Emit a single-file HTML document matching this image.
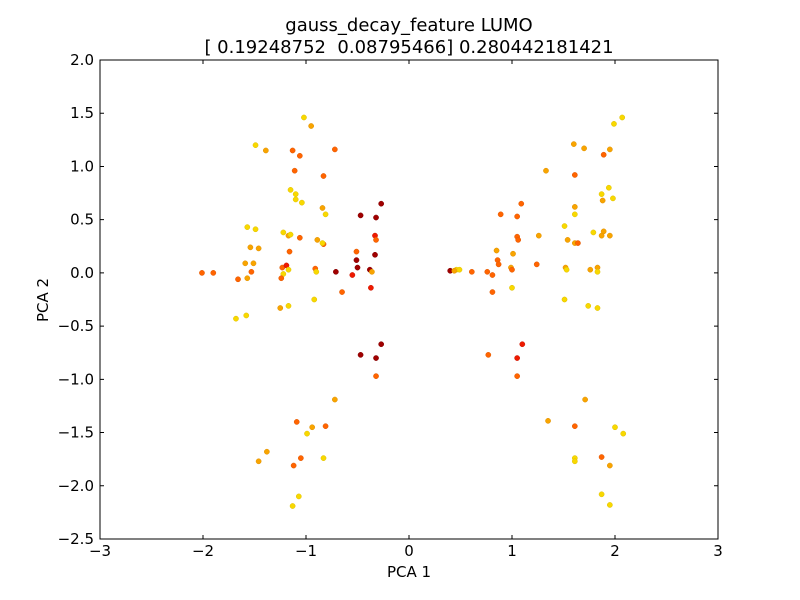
<!DOCTYPE html>
<html><head><meta charset="utf-8"><style>
body{margin:0;background:#fff}
svg{display:block;font-family:"DejaVu Sans","Liberation Sans",sans-serif}
</style></head><body>
<svg id="chart" width="800" height="600">
<rect width="800" height="600" fill="#fff"/>
<text x="409" y="31" font-size="18" text-anchor="middle">gauss_decay_feature LUMO</text>
<text x="409" y="53" font-size="18" text-anchor="middle" xml:space="preserve">[ 0.19248752  0.08795466] 0.280442181421</text>
<g id="marks"></g>
<rect x="100" y="60" width="618" height="479" fill="none" stroke="#000"/>
<g id="axes"></g>
<text x="409" y="577" font-size="15" text-anchor="middle">PCA 1</text>
<text x="48" y="300" font-size="15" text-anchor="middle" transform="rotate(-90 48 300)">PCA 2</text>
</svg>
<script>
const xTicks=[-3,-2,-1,0,1,2,3];
const yTicks=[-2.5,-2.0,-1.5,-1.0,-0.5,0.0,0.5,1.0,1.5,2.0];
const xTickLabels=["\u22123","\u22122","\u22121","0","1","2","3"];
const yTickLabels=["\u22122.5","\u22122.0","\u22121.5","\u22121.0","\u22120.5","0.0","0.5","1.0","1.5","2.0"];
const xs=[-1.49,-1.39,-1.02,-0.95,-1.13,-1.06,-0.72,-1.15,-1.10,-1.04,-1.10,-1.11,-0.83,-0.84,-0.81,-0.83,-1.57,-1.49,-1.54,-1.46,-1.22,-1.17,-1.15,-1.06,-0.89,-0.84,-1.16,-1.59,-1.51,-1.53,-1.66,-1.57,-2.01,-1.90,-1.23,-1.19,-1.22,-1.17,-1.24,-0.91,-0.90,-0.71,-1.68,-1.58,-1.25,-1.17,-0.92,-0.47,-0.32,-0.27,-0.51,-0.33,-0.32,-0.33,-0.51,-0.50,-0.55,-0.65,-0.37,-0.38,-0.36,-0.47,-0.32,-0.27,-0.32,-0.72,-1.09,-0.81,-0.94,-0.99,-1.05,-0.83,-1.38,-1.46,-1.12,-1.07,-1.13,
0.40,0.46,0.44,0.49,0.61,0.76,0.81,0.81,0.85,0.86,0.87,0.89,0.99,1.00,1.00,1.01,1.05,1.05,1.06,1.09,1.24,1.26,1.33,1.51,1.51,1.52,1.53,1.54,1.60,1.61,1.61,1.70,1.61,1.64,1.61,1.76,1.74,1.83,1.83,1.83,1.79,1.87,1.88,1.89,1.87,1.95,1.89,1.94,1.98,1.95,1.99,2.07,0.77,1.05,1.10,1.05,1.35,1.71,1.61,2.00,2.08,1.87,1.95,1.61,1.61,1.87,1.95];
const ys=[1.20,1.15,1.46,1.38,1.15,1.10,1.16,0.78,0.74,0.66,0.69,0.96,0.91,0.61,0.55,0.27,0.43,0.41,0.24,0.23,0.38,0.35,0.36,0.33,0.31,0.28,0.20,0.09,0.09,0.01,-0.06,-0.05,0.00,0.00,0.05,0.07,-0.01,0.03,-0.05,0.04,0.01,0.01,-0.43,-0.40,-0.33,-0.31,-0.25,0.54,0.52,0.65,0.20,0.35,0.31,0.17,0.12,0.05,-0.02,-0.18,-0.14,0.03,0.01,-0.77,-0.80,-0.67,-0.97,-1.19,-1.40,-1.44,-1.45,-1.51,-1.74,-1.74,-1.68,-1.77,-1.81,-2.10,-2.19,
0.02,0.03,0.02,0.03,0.01,0.01,-0.02,-0.18,0.21,0.12,0.08,0.55,0.05,-0.14,0.03,0.18,0.53,0.34,0.31,0.65,0.08,0.35,0.96,0.44,-0.25,0.05,0.03,0.31,1.21,0.55,0.92,1.17,0.28,0.28,0.62,0.03,-0.31,-0.33,0.05,0.01,0.38,0.74,0.68,0.39,0.35,1.16,1.11,0.80,0.70,0.35,1.40,1.46,-0.77,-0.80,-0.67,-0.97,-1.39,-1.19,-1.44,-1.45,-1.51,-1.73,-1.81,-1.74,-1.77,-2.08,-2.18];
const cs=[0,1,0,1,2,2,2,0,0,0,0,2,2,1,0,2,0,0,1,1,0,1,0,2,1,0,2,1,1,2,2,1,2,2,2,3,0,0,2,2,0,4,0,0,1,0,0,4,4,4,2,3,2,4,4,4,3,2,3,4,1,4,4,4,2,1,2,2,1,0,2,0,1,1,2,0,0,
4,0,1,0,2,2,2,2,1,2,2,2,1,0,2,1,2,2,2,2,2,1,1,0,0,1,0,1,1,0,2,1,1,2,1,1,0,0,1,0,0,0,1,1,1,1,2,0,0,1,0,0,2,3,3,2,1,1,2,0,0,2,1,0,0,0,0];
const palette=["#f8d800","#f8a400","#ff6400","#ee1a00","#a00000"];
const edge=["#e0c000","#e09000","#e05800","#cc1400","#800000"];
const X=v=>100+(v+3)*103;
const Y=v=>539-(v+2.5)*(479/4.5);
const NS="http://www.w3.org/2000/svg";
const marks=document.getElementById('marks');
for(let i=0;i<xs.length;i++){
  const c=document.createElementNS(NS,'circle');
  c.setAttribute('cx',X(xs[i]));c.setAttribute('cy',Y(ys[i]));c.setAttribute('r',2.6);
  c.setAttribute('fill',palette[cs[i]]);c.setAttribute('stroke',edge[cs[i]]);c.setAttribute('stroke-width',0.5);
  
  
  marks.appendChild(c);
}
const axes=document.getElementById('axes');
xTicks.forEach((t,i)=>{
  const x=X(t);
  const l=document.createElementNS(NS,'path');
  l.setAttribute('d',`M${x},539v-4M${x},60v4`);l.setAttribute('stroke','#000');
  
  
  axes.appendChild(l);
  const tx=document.createElementNS(NS,'text');
  tx.setAttribute('x',x);tx.setAttribute('y',556);tx.setAttribute('font-size','15');tx.setAttribute('text-anchor','middle');
  tx.textContent=xTickLabels[i];
  
  
  axes.appendChild(tx);
});
yTicks.forEach((t,i)=>{
  const y=Y(t);
  const l=document.createElementNS(NS,'path');
  l.setAttribute('d',`M100,${y}h4M718,${y}h-4`);l.setAttribute('stroke','#000');
  
  
  axes.appendChild(l);
  const tx=document.createElementNS(NS,'text');
  tx.setAttribute('x',94);tx.setAttribute('y',y+5);tx.setAttribute('font-size','15');tx.setAttribute('text-anchor','end');
  tx.textContent=yTickLabels[i];
  
  
  axes.appendChild(tx);
});
</script>
</body></html>
